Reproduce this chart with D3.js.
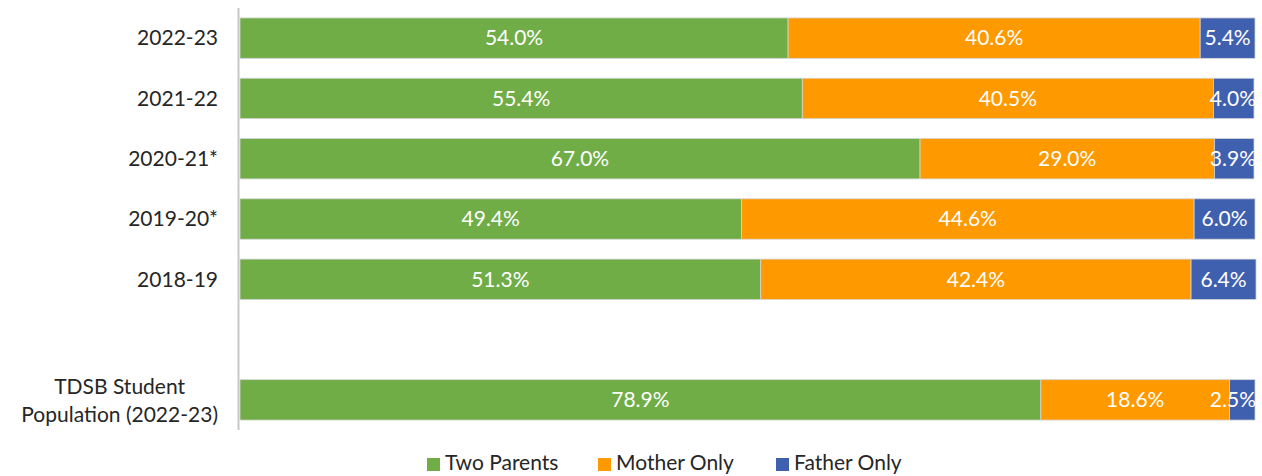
<!DOCTYPE html>
<meta charset="utf-8">
<head>
<style>
body { margin: 0; background: #fff; }
.label { font: 21px Lato, "Open Sans", sans-serif; fill: #fff; }
.cat text { font: 21px Lato, "Open Sans", sans-serif; fill: #262626; }
.legend text { font: 21px Lato, "Open Sans", sans-serif; fill: #262626; }
</style>
</head>
<body>
<script src="https://cdn.jsdelivr.net/npm/d3@7/dist/d3.min.js"></script>
<script>

// categories top to bottom, "" is the empty slot
var categories = ["2022-23", "2021-22", "2020-21*", "2019-20*", "2018-19", "", "TDSB Student|Population (2022-23)"];
var seriesNames = ["Two Parents", "Mother Only", "Father Only"];
var twoParents = [54.0, 55.4, 67.0, 49.4, 51.3, null, 78.9];
var motherOnly = [40.6, 40.5, 29.0, 44.6, 42.4, null, 18.6];
var fatherOnly = [5.4, 4.0, 3.9, 6.0, 6.4, null, 2.5];
var colors = ["#70AD47", "#FF9900", "#3F5FAF"];

var width = 1262, height = 476;
var plotLeft = 240, plotRight = 1255, plotTop = 8, plotBottom = 430;

var svg = d3.select("body").append("svg")
    .attr("width", width)
    .attr("height", height);

var x = d3.scaleLinear().domain([0, 100]).range([plotLeft, plotRight]);
var y = d3.scaleBand().domain(d3.range(categories.length)).range([plotTop, plotBottom]).paddingInner(0.33).paddingOuter(0.165);

var series = [twoParents, motherOnly, fatherOnly];

// stack by hand
var rows = [];
categories.forEach(function(c, i) {
    if (twoParents[i] == null) return;
    var start = 0;
    series.forEach(function(s, k) {
        rows.push({cat: i, k: k, x0: start, x1: start + s[i], v: s[i]});
        start += s[i];
    });
});

svg.selectAll(".rectangle")
    .data(rows)
    .enter()
    .append("rect")
    .attr("class", "rectangle")
    .attr("x", function(d) { return x(d.x0); })
    .attr("width", function(d) { return x(d.x1) - x(d.x0); })
    .attr("y", function(d) { return y(d.cat); })
    .attr("height", y.bandwidth())
    .attr("fill", function(d) { return colors[d.k]; })
    .attr("stroke", "#d4d4d4")
    .attr("stroke-width", 0.8);

// axis line
svg.append("line")
    .attr("x1", plotLeft - 1.5).attr("x2", plotLeft - 1.5)
    .attr("y1", plotTop).attr("y2", plotBottom)
    .attr("stroke", "#c8c8c8")
    .attr("stroke-width", 2);

// data labels
svg.selectAll(".label")
    .data(rows)
    .enter()
    .append("text")
    .attr("class", "label")
    .attr("y", function(d) { return y(d.cat) + y.bandwidth() / 2; })
    .attr("dy", "0.35em")
    .attr("text-anchor", "middle")
    .text(function(d) { return d.v.toFixed(1) + "%"; })
    .attr("x", function(d) {
        var cx = (x(d.x0) + x(d.x1)) / 2;
        var w = this.getComputedTextLength();
        return Math.min(cx, plotRight + 1 - w / 2);
    });

// category labels
var cat = svg.append("g").attr("class", "cat");
categories.forEach(function(c, i) {
    if (!c) return;
    var lines = c.split("|");
    var t = cat.append("text")
        .attr("y", y(i) + y.bandwidth() / 2);
    if (lines.length == 1) {
        t.attr("x", 218).attr("dy", "0.35em").attr("text-anchor", "end").text(c);
    } else {
        lines.forEach(function(l, j) {
            t.append("tspan").attr("dy", j == 0 ? "-0.3em" : "1.35em").attr("text-anchor", "middle").text(l);
        });
        var maxW = 0;
        t.selectAll("tspan").each(function() { maxW = Math.max(maxW, this.getComputedTextLength()); });
        t.selectAll("tspan").attr("x", 218 - maxW / 2);
    }
});

// legend
var legendX = [427, 598, 776];
var legend = svg.append("g").attr("class", "legend");
seriesNames.forEach(function(n, k) {
    legend.append("rect")
        .attr("x", legendX[k]).attr("y", 458)
        .attr("width", 13).attr("height", 13)
        .attr("fill", colors[k]);
    legend.append("text")
        .attr("x", legendX[k] + 18).attr("y", 463)
        .attr("dy", "0.35em")
        .text(n);
});

</script>
</body>
